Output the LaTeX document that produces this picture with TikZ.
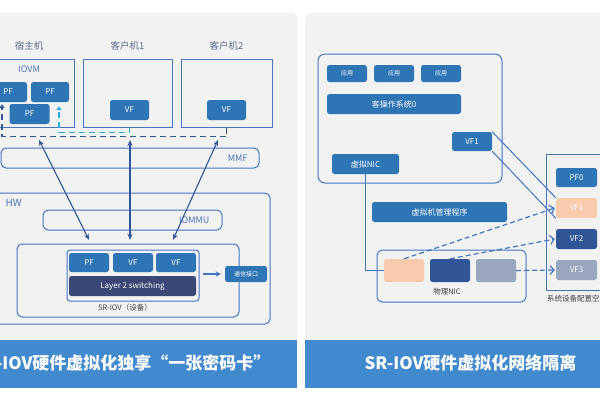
\documentclass[tikz,border=0pt]{standalone}
\usepackage{fontspec}
\setmainfont{Noto Sans CJK SC}
\usetikzlibrary{arrows.meta}
\definecolor{srPanel}{RGB}{242,242,242}
\definecolor{srLine}{RGB}{68,116,196}
\definecolor{srBox}{RGB}{46,117,182}
\definecolor{srDark}{RGB}{59,72,118}
\definecolor{srNavy}{RGB}{50,84,154}
\definecolor{srCyan}{RGB}{38,172,222}
\definecolor{srPeach}{RGB}{248,203,173}
\definecolor{srDeep}{RGB}{47,85,151}
\definecolor{srMist}{RGB}{152,166,190}
\definecolor{srBar}{RGB}{66,138,206}
\definecolor{srText}{RGB}{92,108,140}
\definecolor{srLbl}{RGB}{78,114,184}
\newcommand{\BH}{20}

\begin{document}
\begin{tikzpicture}[
    x=1pt, y=-1pt,
    frame/.style={draw=srLine, line width=1pt, rounded corners=5pt, inner sep=0pt},
    vm/.style={draw=srLine, line width=1pt, inner sep=0pt},
    blk/.style={rectangle, rounded corners=2.5pt, fill=srBox, text=white, inner sep=0pt,
                minimum height=\BH, font=\fontsize{8}{8}\selectfont},
    tiny/.style={font=\fontsize{6}{6}\selectfont},
    vmcap/.style={text=srText, font=\fontsize{9.5}{10}\selectfont},
    lbl/.style={text=srLbl, font=\fontsize{9}{10}\selectfont},
    note/.style={text=black!75, font=\fontsize{7.5}{8}\selectfont},
    link/.style={draw=srNavy, line width=1.1pt, {Stealth[length=6pt,width=5pt]}-{Stealth[length=6pt,width=5pt]}},
    dnavy/.style={draw=srNavy, line width=1.1pt, dash pattern=on 6pt off 4pt},
    dcyan/.style={draw=srCyan, line width=1.1pt, dash pattern=on 6pt off 4pt},
    vlink/.style={draw=srLine, line width=1.2pt, dash pattern=on 5pt off 3pt, -{Straight Barb[length=4pt,width=9pt]}},
    banner/.style={text=white, font=\fontsize{17}{17}\selectfont\bfseries},
  ]

  \useasboundingbox (0,0) rectangle (600,400);
  \clip (0,0) rectangle (600,400);
  \fill[white] (0,0) rectangle (600,400);

  %% ================= left panel: one card, shared =================
  \fill[srPanel, rounded corners=6pt] (-60,13) rectangle (297,388);
  \fill[srBar] (-60,340) rectangle (297,388);
  \node[banner, anchor=east] (ltitle) at (274,363) {SR-IOV硬件虚拟化独享“一张密码卡”};

  % host and guests
  \node[vm, minimum width=90, minimum height=68] (host) at (29,93) {};
  \node[vm, minimum width=89, minimum height=68] (guest1) at (127.5,93) {};
  \node[vm, minimum width=91, minimum height=68] (guest2) at (226.5,93) {};
  \node[vmcap] (hostcap) at (29,46) {宿主机};
  \node[vmcap] (g1cap) at (127.5,46) {客户机1};
  \node[vmcap] (g2cap) at (226.5,46) {客户机2};
  \node[lbl] (iovm) at (29,69) {IOVM};

  \node[blk, minimum width=38] (pfa) at (8,92) {PF};
  \node[blk, minimum width=38] (pfb) at (50,92) {PF};
  \node[blk, minimum width=40] (pfc) at (29.5,114) {PF};
  \node[blk, minimum width=39] (vfa) at (129.5,110) {VF};
  \node[blk, minimum width=39] (vfb) at (226.5,110) {VF};

  \draw[dnavy, -{Triangle[length=4pt,width=5pt]}] (vfb.south |- guest2.south) -- ++(0,9)
        -| ([xshift=-6pt,yshift=-2pt]pfa.south);
  \draw[dcyan, -{Triangle[length=4pt,width=5pt]}] (vfa.south |- guest1.south) -- ++(0,5)
        -| ([xshift=9pt,yshift=-4pt]pfb.south);

  \node[frame, minimum width=258, minimum height=20] (mmf) at (130,158) {};
  \node[lbl, anchor=east] (mmftxt) at (251,158) {MMF};

  % hardware
  \node[frame, minimum width=300, minimum height=131] (hw) at (120,258.5) {};
  \node[lbl, anchor=west, font=\fontsize{10}{10}\selectfont] (hwtxt) at (2,203) {HW};
  \node[frame, minimum width=179, minimum height=20] (iommu) at (132.5,220) {};
  \node[lbl, anchor=east] (iommutxt) at (213,220) {IOMMU};

  \node[frame, minimum width=222, minimum height=73] (sriov) at (128,280.5) {};
  \node[frame, rounded corners=3pt, minimum width=132, minimum height=51] (dev) at (133,275.5) {};
  \node[blk, minimum width=40, minimum height=19] (pfd) at (89,262.5) {PF};
  \node[blk, minimum width=40, minimum height=19] (vfd1) at (133,262.5) {VF};
  \node[blk, minimum width=40, minimum height=19] (vfd2) at (176,262.5) {VF};
  \node[blk, fill=srDark, minimum width=127] (l2) at (132.5,286) {Layer 2 switching};
  \node[note] (sriovtxt) at (125,308) {SR-IOV（设备）};
  \node[blk, tiny, minimum width=42, minimum height=16] (comm) at (246,274) {通信接口};
  \draw[draw=srLine, line width=1.1pt, -{Stealth[length=5pt,width=5pt]}]
        ([xshift=3pt]dev.east |- comm.west) -- ([xshift=-4pt]comm.west);

  \coordinate (top1) at (39,140);
  \coordinate (top2) at (130,140);
  \coordinate (top3) at (218,140);
  \draw[link] (top1) -- ([yshift=13pt]pfd.north);
  \draw[link] (top2) -- ([yshift=13pt,xshift=-3pt]vfd1.north);
  \draw[link] (top3) -- ([yshift=13pt,xshift=-3pt]vfd2.north);

  %% ================= right panel: network isolation =================
  \fill[srPanel, rounded corners=6pt] (305,13) rectangle (660,388);
  \fill[srBar] (305,340) rectangle (660,388);
  \node[banner] (rtitle) at (470.5,363) {SR-IOV硬件虚拟化网络隔离};

  \node[frame, rounded corners=7pt, minimum width=184, minimum height=129] (guest0) at (410,118.5) {};
  \foreach \i/\x in {1/347,2/394,3/441}
    \node[blk, tiny, minimum width=40, minimum height=17] (app\i) at (\x,73.5) {应用};
  \node[blk, minimum width=134] (os) at (394,104) {客操作系统0};
  \node[blk, minimum width=40, minimum height=19] (vfg) at (472,141.5) {VF1};
  \node[blk, minimum width=67] (vnic) at (365.5,164) {虚拟NIC};
  \node[blk, minimum width=135] (hyp) at (439.5,212) {虚拟机管理程序};

  \node[vm, minimum width=61, minimum height=136] (cfg) at (576.5,222) {};
  \node[note] (cfgtxt) at (577,299) {系统设备配置空间};
  \node[blk, minimum width=41, minimum height=19] (pf0) at (576.5,177.5) {PF0};
  \node[blk, fill=srPeach, minimum width=41] (dvf1) at (576.5,208) {VF1};
  \node[blk, fill=srDeep, minimum width=41] (dvf2) at (576.5,239) {VF2};
  \node[blk, fill=srMist, minimum width=41] (dvf3) at (576.5,270) {VF3};

  \node[frame, minimum width=149, minimum height=52] (pnic) at (451.5,276) {};
  \node[blk, fill=srPeach, minimum width=40, minimum height=23] (nic1) at (404,270.5) {};
  \node[blk, fill=srDeep, minimum width=40, minimum height=23] (nic2) at (450,270.5) {};
  \node[blk, fill=srMist, minimum width=40, minimum height=23] (nic3) at (496,270.5) {};
  \node[note] (pnictxt) at (447,292) {物理NIC};

  \draw[draw=srLine, line width=1pt] (vnic.south) |- (nic1.west);
  \draw[draw=srLine, line width=1pt] (vfg.north east) -- (dvf1.north west);
  \draw[draw=srLine, line width=1pt] (vfg.south east) -- (dvf1.south west);
  \draw[vlink] (nic1.north) -- ([xshift=-1pt]dvf1.west);
  \draw[vlink] (nic2.north) -- ([xshift=-1pt]dvf2.west);
  \draw[vlink] (nic3.east) -- ([xshift=-1pt]dvf3.west);

\end{tikzpicture}
\end{document}
